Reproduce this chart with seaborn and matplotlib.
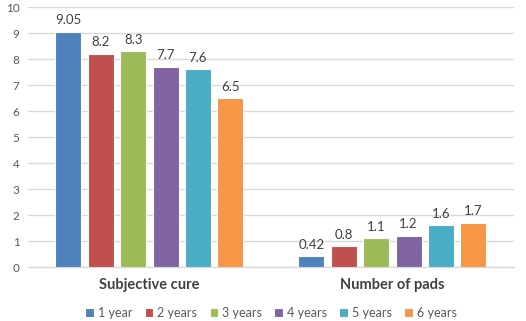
import matplotlib
matplotlib.use("Agg")
import matplotlib.pyplot as plt
import seaborn as sns
import pandas as pd

categories = ["Subjective cure", "Number of pads"]
periods = ["1 year", "2 years", "3 years", "4 years", "5 years", "6 years"]
subjective_cure = [9.05, 8.2, 8.3, 7.7, 7.6, 6.5]
number_of_pads = [0.42, 0.8, 1.1, 1.2, 1.6, 1.7]
value_labels = {
    "Subjective cure": ["9.05", "8.2", "8.3", "7.7", "7.6", "6.5"],
    "Number of pads": ["0.42", "0.8", "1.1", "1.2", "1.6", "1.7"],
}
colors = ["#4F81BD", "#C0504D", "#9BBB59", "#8064A2", "#4BACC6", "#F79646"]

rows = []
for cat, vals in zip(categories, [subjective_cure, number_of_pads]):
    for p, v in zip(periods, vals):
        rows.append({"category": cat, "period": p, "value": v})
df = pd.DataFrame(rows)

sns.set_style("white")
plt.rcParams["font.family"] = ["Lato", "DejaVu Sans"]

fig = plt.figure(figsize=(5.26, 3.21), dpi=100)
ax = fig.add_axes([0.053, 0.168, 0.924, 0.81])

sns.barplot(data=df, x="category", y="value", hue="period",
            order=categories, hue_order=periods, palette=colors,
            saturation=1, width=0.8, gap=0.2, edgecolor="white",
            linewidth=0.8, errorbar=None, legend=True, ax=ax, zorder=3)

# value labels above each bar
for container, p in zip(ax.containers, periods):
    labs = [value_labels[c][periods.index(p)] for c in categories]
    ax.bar_label(container, labels=labs, padding=4, fontsize=9.5, color="#404040")

ax.set_ylim(0, 10)
ax.set_xlim(-0.5, 1.5)
ax.set_yticks(range(0, 11))
ax.yaxis.grid(True, color="#D9D9D9", linewidth=1, zorder=0)
ax.set_axisbelow(True)
for s in ["top", "right", "left"]:
    ax.spines[s].set_visible(False)
ax.spines["bottom"].set_color("#D9D9D9")
ax.spines["bottom"].set_linewidth(1)
ax.tick_params(axis="y", length=0, labelsize=8.5, labelcolor="#595959", pad=6)
ax.tick_params(axis="x", length=0, labelsize=10.5, labelcolor="#404040", pad=8)
for t in ax.get_xticklabels():
    t.set_fontweight("bold")
ax.set_xlabel("")
ax.set_ylabel("")

handles, labels = ax.get_legend_handles_labels()
ax.legend(handles, labels, loc="center", bbox_to_anchor=(0.5, -0.175),
          ncol=6, frameon=False, fontsize=9, labelcolor="#595959",
          handlelength=0.7, handleheight=0.7, handletextpad=0.3,
          columnspacing=1.0, borderpad=0)

fig.savefig("out.png", dpi=100)
